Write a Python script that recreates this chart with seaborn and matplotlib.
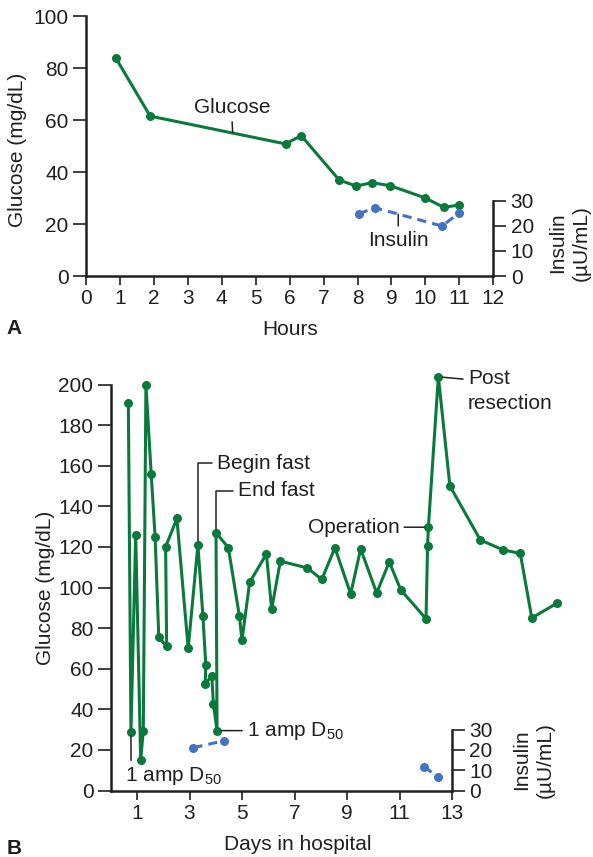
import matplotlib
matplotlib.use("Agg")
import matplotlib.pyplot as plt
import pandas as pd
import seaborn as sns

# Panel A: glucose and insulin during the first hours
hours_glu = [0.88, 1.89, 5.88, 6.34, 7.46, 7.96, 8.43, 8.97, 10.0, 10.54, 10.98]
glu_a = [83.8, 61.5, 50.8, 54.0, 36.9, 34.6, 35.9, 34.7, 30.0, 26.4, 27.3]
hours_ins = [8.04, 8.51, 10.49, 11.0]
ins_a = [24.8, 27.2, 19.9, 25.2]

# Panel B: glucose and insulin over the days in hospital
days_glu = [0.67, 0.77, 0.95, 1.14, 1.24, 1.34, 1.54, 1.69, 1.83, 2.13,
            2.09, 2.52, 2.95, 3.32, 3.51, 3.62, 3.60, 3.85, 3.91, 4.05,
            4.01, 4.48, 4.90, 5.00, 5.29, 5.93, 6.13, 6.46, 7.49, 8.04,
            8.54, 9.14, 9.52, 10.13, 10.61, 11.05, 12.01, 12.07, 12.10, 12.48,
            12.92, 14.08, 14.95, 15.60, 16.04, 16.99]
glu_b = [191, 29, 126, 15, 29.5, 200, 156, 125, 75.5, 71,
         120, 134, 70, 121, 86, 62, 52.5, 56.5, 42.5, 29.5,
         127, 119.6, 86, 74, 102.5, 116.5, 89.3, 113, 109.6, 104,
         119.6, 96.8, 119, 97.3, 112.6, 98.8, 84.6, 120.6, 129.7, 203.8,
         150, 123.4, 118.5, 116.8, 85, 92.2]
days_ins = [3.15, 4.31, 11.94, 12.48]
ins_b = [21.1, 24.5, 11.7, 6.5]
ins_seg = [0, 0, 1, 1]

hours_ticks = list(range(0, 13))
days_ticks = [1, 3, 5, 7, 9, 11, 13]

GREEN = "#0a7a3c"
BLUE = "#4472c4"
INK = "#231f20"

sns.set_style("ticks")
plt.rcParams["font.family"] = ["Liberation Sans", "DejaVu Sans"]
plt.rcParams["mathtext.fontset"] = "custom"
plt.rcParams["mathtext.rm"] = "Liberation Sans"
plt.rcParams["text.color"] = INK
plt.rcParams["axes.labelcolor"] = INK

W, H = 593, 857
fig = plt.figure(figsize=(W / 100, H / 100), dpi=100)

line_kw = dict(lw=2.2, marker="o", markersize=6.5, markeredgewidth=0,
               sort=False, estimator=None)
lead = dict(arrowstyle="-", color=INK, lw=1.1, shrinkA=1, shrinkB=3)


def style_axis(ax, left_len=9.5, bottom_len=6.5):
    for s in ax.spines.values():
        s.set_linewidth(1.8)
        s.set_color(INK)
    ax.tick_params(axis="y", length=left_len, width=1.2, pad=3,
                   labelsize=15, colors=INK)
    ax.tick_params(axis="x", length=bottom_len, width=1.2, pad=3,
                   labelsize=15, colors=INK)


# ---------------- A ----------------
axA = fig.add_axes([86 / W, 1 - 276 / H, 407.3 / W, 260 / H])
sns.lineplot(x=hours_glu, y=glu_a, ax=axA, color=GREEN, **line_kw)
axA.set_xlim(0, 12)
axA.set_ylim(0, 100)
axA.set_xticks(hours_ticks)
axA.set_yticks(range(0, 101, 20))
sns.despine(ax=axA)
style_axis(axA)
axA.set_xlabel("Hours", fontsize=15, va="center")
axA.xaxis.set_label_coords(0.501, -0.204)
axA.set_ylabel("Glucose (mg/dL)", fontsize=15, va="center")
axA.yaxis.set_label_coords(-0.169, 0.487)

axA2 = axA.twinx()
sns.lineplot(x=hours_ins, y=ins_a, ax=axA2, color=BLUE,
             linestyle=(0, (3, 2)), **line_kw)
axA2.set_ylim(0, 260 / 2.51)
axA2.set_yticks([0, 10, 20, 30])
for s in ["left", "top", "bottom"]:
    axA2.spines[s].set_visible(False)
axA2.spines["right"].set_bounds(0, 30)
style_axis(axA2)
axA2.set_ylabel("Insulin\n(µU/mL)", fontsize=15, va="center",
                rotation=90, linespacing=1.3)
axA2.yaxis.set_label_coords(1.186, 0.127)

axA.annotate("Glucose", xy=(4.32, 55.2), xytext=(4.30, 64.7),
             ha="center", va="center", fontsize=15,
             arrowprops=dict(lead, relpos=(0.5, 0), shrinkB=0))
axA2.annotate("Insulin", xy=(9.2, 24.6), xytext=(9.2, 14.3),
              ha="center", va="center", fontsize=15,
              arrowprops=dict(lead, relpos=(0.5, 1), shrinkB=0))

# ---------------- B ----------------
axB = fig.add_axes([110.75 / W, 1 - 790.5 / H, 17.5 * 26.25 / W, 210 * 2.03 / H])
sns.lineplot(x=days_glu, y=glu_b, ax=axB, color=GREEN, **line_kw)
axB.set_xlim(0, 17.5)
axB.set_ylim(0, 210)
axB.set_xticks(days_ticks)
axB.set_yticks(range(0, 201, 20))
sns.despine(ax=axB)
axB.spines["left"].set_bounds(0, 200)
axB.spines["bottom"].set_bounds(0, 13)
style_axis(axB)
axB.set_xlabel("Days in hospital", fontsize=15, va="center")
axB.xaxis.set_label_coords(0.4065, -0.1255)
axB.set_ylabel("Glucose (mg/dL)", fontsize=15, va="center")
axB.yaxis.set_label_coords(-0.141, 0.475)

ins_df = pd.DataFrame({"day": days_ins, "insulin": ins_b, "seg": ins_seg})
axB2 = axB.twinx()
sns.lineplot(data=ins_df, x="day", y="insulin", units="seg", ax=axB2,
             color=BLUE, linestyle=(0, (3, 2)), **line_kw)
axB2.set_ylim(0, 210)
axB2.set_yticks([0, 10, 20, 30])
for s in ["left", "top", "bottom"]:
    axB2.spines[s].set_visible(False)
axB2.spines["right"].set_position(("data", 13))
axB2.spines["right"].set_bounds(0, 30)
style_axis(axB2)
axB2.set_ylabel("Insulin\n(µU/mL)", fontsize=15, va="center",
                rotation=90, linespacing=1.3)
axB2.yaxis.set_label_coords(0.920, 0.0715)

angle = "angle,angleA=0,angleB=90,rad=0"
axB.annotate("Begin fast", xy=(3.32, 121), xytext=(4.05, 161.2),
             ha="left", va="center", fontsize=15,
             arrowprops=dict(lead, relpos=(0, 0.5), connectionstyle=angle))
axB.annotate("End fast", xy=(4.01, 127), xytext=(4.85, 147.7),
             ha="left", va="center", fontsize=15,
             arrowprops=dict(lead, relpos=(0, 0.5), connectionstyle=angle))
axB.annotate("Operation", xy=(12.10, 129.7), xytext=(11.0, 129.7),
             ha="right", va="center", fontsize=15,
             arrowprops=dict(lead, relpos=(1, 0.5)))
axB.annotate("Post\nresection", xy=(12.48, 203.8), xytext=(13.6, 196.8),
             ha="left", va="center", fontsize=15, linespacing=1.4,
             arrowprops=dict(lead, relpos=(0, 0.76)))
axB.annotate("1 amp D$_{50}$", xy=(4.05, 29.5), xytext=(5.18, 29.5),
             ha="left", va="center", fontsize=15,
             arrowprops=dict(lead, relpos=(0, 0.5)))
axB.annotate("1 amp D$_{50}$", xy=(0.77, 29), xytext=(0.54, 7.1),
             ha="left", va="center", fontsize=15,
             arrowprops=dict(lead, relpos=(0.063, 1)))

fig.text(14 / W, 1 - 328 / H, "A", fontsize=15, weight="bold",
         ha="center", va="center")
fig.text(14 / W, 1 - 848 / H, "B", fontsize=15, weight="bold",
         ha="center", va="center")

fig.savefig("out.png", dpi=100)
